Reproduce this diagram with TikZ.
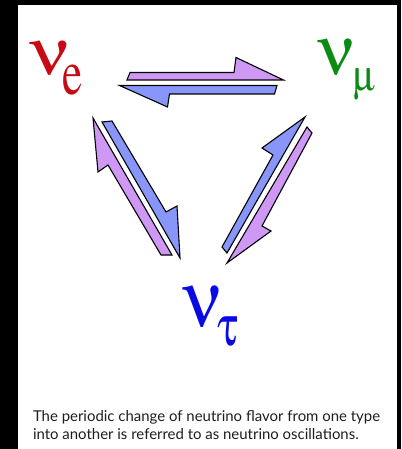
\documentclass[tikz,border=0pt]{standalone}
\usepackage[Symbol]{upgreek}
\usepackage{fontspec}
\setmainfont{Liberation Serif}
\newfontfamily\capfont{Lato}
\usepackage{graphicx}
\definecolor{bgblack}{RGB}{0,0,0}
\definecolor{arrpurple}{RGB}{208,152,245}
\definecolor{arrblue}{RGB}{136,150,250}
\definecolor{nured}{RGB}{200,10,20}
\definecolor{nugreen}{RGB}{10,140,20}
\definecolor{nublue}{RGB}{10,10,230}
\definecolor{captext}{RGB}{30,30,30}
\newcommand{\timesfam}{\usefont{OT1}{ptm}{m}{n}}
\tikzset{
  harp/.style={draw=black, line width=1.1bp, line join=miter},
  harppurple/.style={harp, fill=arrpurple},
  harpblue/.style={harp, fill=arrblue},
  glyph/.style={inner sep=0pt, outer sep=0pt, anchor=south west},
  captxt/.style={inner sep=0pt, outer sep=0pt, anchor=base west, text=captext,
    font=\capfont\fontsize{15}{18}\selectfont},
}
\begin{document}
\begin{tikzpicture}[x=1bp,y=-1bp]
\useasboundingbox (0,0) rectangle (401,449);
\fill[bgblack] (0,0) rectangle (401,449);
\fill[white] (18,5) rectangle (397,449);

% top pair
\draw[harppurple] (130,72.5) -- (234,72.5) -- (236,57.5) -- (283.5,80) -- (127,80) -- cycle;
\draw[harpblue] (119.5,85.5) -- (277,85.5) -- (274.5,94) -- (169.5,94) -- (167.5,107) -- cycle;

% left pair
\draw[harppurple] (93,118) -- (98,172) -- (108,165) -- (161,255) -- (172,255) -- cycle;
\draw[harpblue] (102,122) -- (112,121) -- (166,212) -- (177,206) -- (180,258) -- cycle;

% right pair
\draw[harpblue] (305,117) -- (262,148) -- (273,155) -- (222,247) -- (227,253) -- cycle;
\draw[harppurple] (307,127) -- (227,263) -- (271,231) -- (262,226) -- (312,133) -- cycle;

% labels
\node[glyph, text=nured] (nue) at (30,75) {\resizebox{40bp}{33bp}{$\upnu$}};
\node[glyph, text=nured] (sube) at (62,95) {\resizebox*{20bp}{30bp}{\timesfam e}};

\node[glyph, text=nugreen] (numu) at (318,75) {\resizebox{37bp}{35bp}{$\upnu$}};
\node[glyph, text=nugreen] (submu) at (353,100) {\resizebox*{22bp}{32bp}{$\upmu$}};

\node[glyph, text=nublue] (nutau) at (183,328) {\resizebox{39bp}{40bp}{$\upnu$}};
\node[glyph, text=nublue] (subtau) at (217,347) {\resizebox{21bp}{29bp}{$\uptau$}};

% caption
\node[captxt] (cap1) at (33,421.5) {The periodic change of neutrino flavor from one type};
\node[captxt] (cap2) at (33,439.5) {into another is referred to as neutrino oscillations.};
\end{tikzpicture}
\end{document}
